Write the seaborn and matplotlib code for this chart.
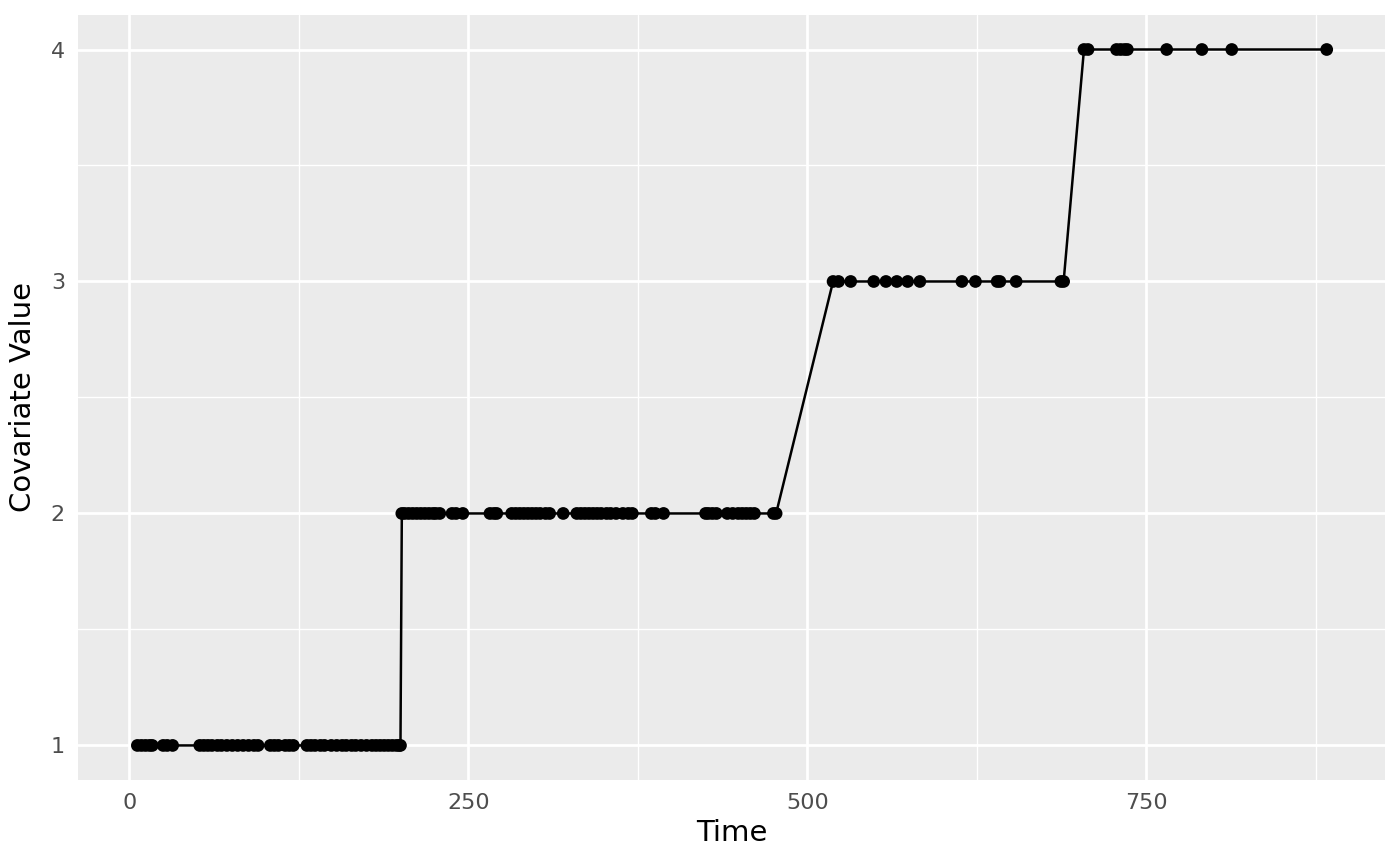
import numpy as np
import pandas as pd
import seaborn as sns
import matplotlib.pyplot as plt
from matplotlib.ticker import MultipleLocator

# Covariate step data
time_lvl1 = [6, 9, 12, 15, 17, 25, 28, 32, 52, 55, 58, 61, 65, 68, 72, 76, 80, 84,
             88, 92, 95, 104, 107, 110, 115, 118, 121, 131, 134, 137, 141, 144, 149,
             153, 157, 160, 164, 167, 171, 175, 179, 182, 185, 188, 191, 194, 197, 199, 200]
time_lvl2 = [201, 203, 206, 209, 212, 215, 218, 221, 224, 226, 229, 238, 241, 246,
             266, 269, 271, 282, 285, 288, 291, 294, 297, 300, 303, 307, 310, 320,
             330, 333, 336, 339, 342, 345, 348, 352, 355, 359, 364, 368, 371, 385,
             388, 394, 425, 427, 430, 433, 441, 445, 449, 452, 455, 458, 461, 475, 477]
time_lvl3 = [519, 523, 532, 549, 558, 566, 574, 583, 614, 624, 640, 642, 654, 687, 689]
time_lvl4 = [704, 707, 728, 731, 734, 736, 765, 791, 813, 883]

times = time_lvl1 + time_lvl2 + time_lvl3 + time_lvl4
values = [1] * len(time_lvl1) + [2] * len(time_lvl2) + [3] * len(time_lvl3) + [4] * len(time_lvl4)
df = pd.DataFrame({"Time": times, "Covariate Value": values})

sns.set_style("darkgrid", {"axes.facecolor": "#EBEBEB", "grid.color": "white"})
plt.rcParams['font.family'] = ['DejaVu Sans']

fig = plt.figure(figsize=(7, 4.325), dpi=200)
ax = fig.add_axes([0.0557, 0.098, 0.9336, 0.885])

sns.lineplot(data=df, x="Time", y="Covariate Value", color="black", linewidth=0.9,
             sort=False, ax=ax)
sns.scatterplot(data=df, x="Time", y="Covariate Value", color="black", s=21,
                edgecolor="none", ax=ax, zorder=3)

# ggplot-like limits and grid
ax.set_xlim(-37.8, 926)
ax.set_ylim(0.85, 4.15)
ax.xaxis.set_major_locator(MultipleLocator(250))
ax.xaxis.set_minor_locator(MultipleLocator(125))
ax.yaxis.set_major_locator(MultipleLocator(1))
ax.yaxis.set_minor_locator(MultipleLocator(0.5))
ax.grid(which="major", color="white", linewidth=1.0)
ax.grid(which="minor", color="white", linewidth=0.5)
for s in ax.spines.values():
    s.set_visible(False)
ax.tick_params(axis="both", which="major", length=2.7, width=0.5, color="#333333",
               labelsize=8, labelcolor="#4D4D4D", pad=2)
ax.tick_params(axis="both", which="minor", length=0)
ax.set_xlabel("Time", fontsize=10.5, color="black", labelpad=2)
ax.set_ylabel("Covariate Value", fontsize=10.5, color="black", labelpad=5)

fig.savefig("out.png", dpi=200)
